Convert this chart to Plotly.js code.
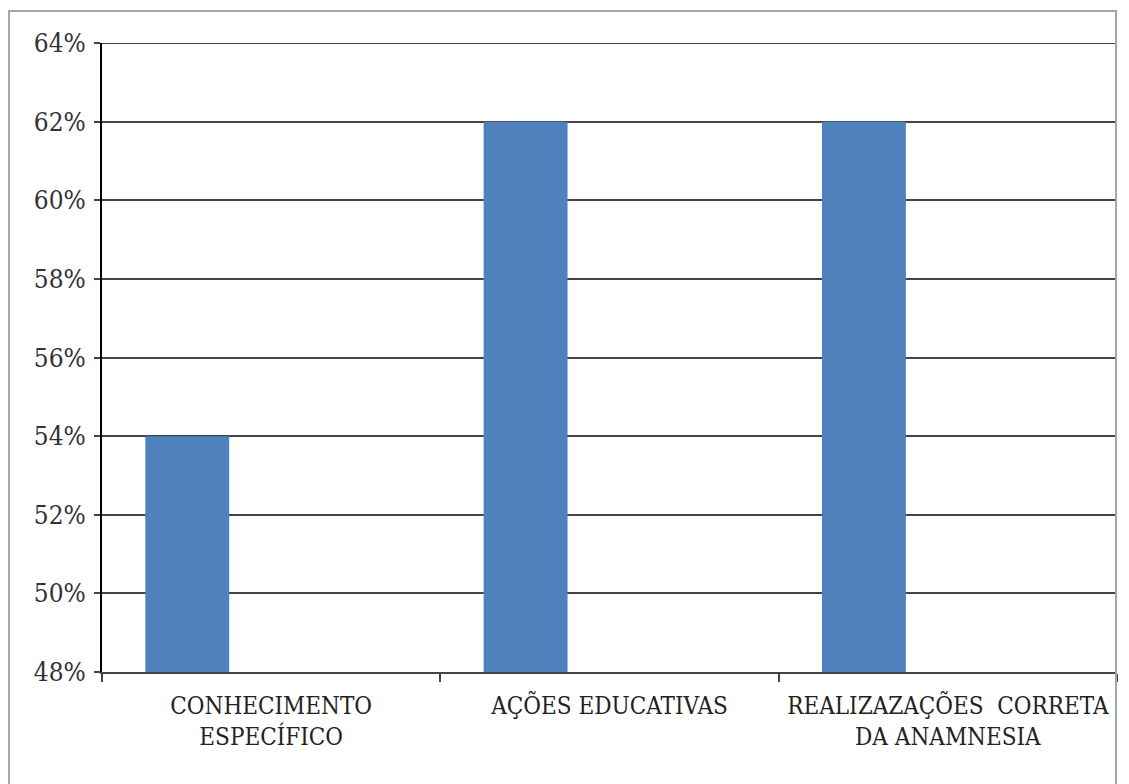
<!DOCTYPE html>
<html>
<head>
<meta charset="utf-8">
<script src="https://cdn.plot.ly/plotly-3.0.1.min.js"></script>
<style>
  html, body { margin: 0; padding: 0; background: #fff; }
  #wrap { position: relative; width: 1129px; height: 784px; }
  #chart { position: absolute; left: 0; top: 0; width: 1129px; height: 784px; }
  #frame { position: absolute; left: 8px; top: 10px; width: 1109px; height: 790px;
           border: 2px solid #a6a6a6; box-sizing: border-box; pointer-events: none; }
</style>
</head>
<body>
<div id="wrap">
  <div id="chart"></div>
  <div id="frame"></div>
</div>
<script>
const categories = ["CONHECIMENTO<br>ESPECÍFICO", "AÇÕES EDUCATIVAS", "REALIZAZAÇÕES  CORRETA<br>DA ANAMNESIA"];
const values = [0.54, 0.62, 0.62];
const yTicks = [0.48, 0.50, 0.52, 0.54, 0.56, 0.58, 0.60, 0.62, 0.64];

const font = "'DejaVu Serif Condensed', 'DejaVu Serif', serif";
const yTop = yTicks[yTicks.length - 1];

const trace = {
  type: 'bar',
  x: categories,
  y: values,
  width: 0.248,
  offset: -0.372,
  marker: { color: '#4F81BD' },
  hoverinfo: 'x+y'
};

const layout = {
  width: 1129,
  height: 784,
  margin: { l: 102, r: 12, t: 43, b: 112 },
  paper_bgcolor: 'rgba(0,0,0,0)',
  plot_bgcolor: '#fff',
  showlegend: false,
  font: { family: font, color: '#222', size: 24 },
  xaxis: {
    type: 'category',
    tickson: 'boundaries',
    ticks: 'outside',
    ticklen: 8,
    tickwidth: 2,
    tickcolor: '#444',
    showline: true,
    linecolor: '#444',
    linewidth: 2,
    showgrid: false,
    tickangle: 0,
    tickfont: { family: font, size: 24, color: '#222' },
    ticklabelstandoff: 11,
    range: [-0.5, 2.5],
    fixedrange: true
  },
  yaxis: {
    range: [yTicks[0], yTop],
    tickvals: yTicks,
    tickformat: '.0%',
    ticks: 'outside',
    ticklen: 6,
    tickwidth: 2,
    tickcolor: '#444',
    showline: true,
    linecolor: '#000',
    linewidth: 2,
    showgrid: true,
    gridcolor: '#444',
    gridwidth: 2,
    zeroline: false,
    tickfont: { family: font, size: 26, color: '#333' },
    ticklabelstandoff: 3,
    fixedrange: true
  },
  shapes: [{
    type: 'line', xref: 'paper', yref: 'y',
    x0: 0, x1: 1, y0: yTop, y1: yTop,
    line: { color: '#444', width: 2 }, layer: 'above'
  }]
};

Plotly.newPlot('chart', [trace], layout, { displayModeBar: false, staticPlot: true });
</script>
</body>
</html>
